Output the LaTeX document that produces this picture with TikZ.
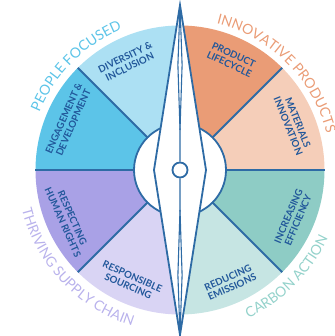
\documentclass[tikz,border=0pt]{standalone}
\usepackage{fontspec}
\setmainfont{Lato}
\usetikzlibrary{decorations.text}
\definecolor{cdiv}{HTML}{ACE0F3}
\definecolor{ceng}{HTML}{5CC4E8}
\definecolor{cprod}{HTML}{EA9C76}
\definecolor{cmat}{HTML}{F5CEB9}
\definecolor{cinc}{HTML}{8ECCC5}
\definecolor{cred}{HTML}{C6E5E3}
\definecolor{crsrc}{HTML}{D9D4F4}
\definecolor{cresp}{HTML}{A9A1E6}
\definecolor{cline}{HTML}{2E6BA5}
\definecolor{ctext}{HTML}{21579A}
\definecolor{tpeople}{HTML}{5CC4E8}
\definecolor{tinno}{HTML}{EA9C76}
\definecolor{tsupply}{HTML}{B9B2EC}
\definecolor{tcarbon}{HTML}{94D2CB}
\tikzset{
  blueline/.style={draw=cline, line width=1.8pt},
  thinline/.style={draw=cline, line width=1.1pt},
  lbl/.style={text=ctext, font=\fontsize{9.7}{10.4}\selectfont\bfseries, align=center, inner sep=0pt},
}
\newcommand{\arclabel}[5]{%
  \path[decorate, decoration={text along path, text align=center, text color=#1,
      text={|\fontsize{14}{14}\selectfont|#5}}]
    (#2:#4) arc[start angle=#2, end angle=#3, radius=#4];}
\begin{document}
\begin{tikzpicture}[x=1pt,y=1pt]
\useasboundingbox (-180,-166) rectangle (154,170);
% sectors
\foreach \a/\c in {0/cmat,45/cprod,90/cdiv,135/ceng,180/cresp,225/crsrc,270/cred,315/cinc}{
  \fill[\c] (0,0) -- (\a:144.5) arc[start angle=\a, end angle=\a+45, radius=144.5] -- cycle;
}
% dividers
\foreach \a in {0,45,135,180,225,315}{
  \draw[blueline] (\a:45) -- (\a:144.5);
}
% inner circle
\node[circle, blueline, fill=white, minimum size=92pt, inner sep=0pt] (hub) at (0,0) {};
% needle
\coordinate (ntop) at (0,165);
\coordinate (nbot) at (0,-165);
\coordinate (nleft) at (-26,0);
\coordinate (nright) at (26,0);
\draw[blueline, fill=white, line join=miter] (ntop) -- (nleft) -- (nbot) -- (nright) -- cycle;
\coordinate (tl) at (-2.1,105);
\coordinate (tr) at (2.1,105);
\coordinate (tm) at (0,40);
\coordinate (bl) at (-2.1,-105);
\coordinate (br) at (2.1,-105);
\coordinate (bm) at (0,-40);
\node[circle, blueline, fill=white, minimum size=15pt, inner sep=0pt] (pivot) at (0,0) {};
\draw[thinline] (ntop) -- (tl) -- (tm) -- (pivot.north);
\draw[thinline] (ntop) -- (tr) -- (tm);
\draw[thinline] (nbot) -- (bl) -- (bm) -- (pivot.south);
\draw[thinline] (nbot) -- (br) -- (bm);
% inner labels
\node[lbl, rotate=26] (div) at (116:120) {DIVERSITY \&\\INCLUSION};
\node[lbl, rotate=66] (eng) at (156:122) {ENGAGEMENT \&\\DEVELOPMENT};
\node[lbl, rotate=-25] (prod) at (65:122) {PRODUCT\\LIFECYCLE};
\node[lbl, rotate=-68] (mat) at (22:122) {MATERIALS\\INNOVATION};
\node[lbl, rotate=67] (inc) at (337:123) {INCREASING\\EFFICIENCY};
\node[lbl, rotate=24] (red) at (294:123) {REDUCING\\EMISSIONS};
\node[lbl, rotate=-24] (rsrc) at (246:122) {RESPONSIBLE\\SOURCING};
\node[lbl, rotate=-66] (resp) at (204:123) {RESPECTING\\HUMAN RIGHTS};
% outer arc labels
\arclabel{tpeople}{175}{95}{152}{PEOPLE FOCUSED}
\arclabel{tinno}{90}{0}{151}{INNOVATIVE PRODUCTS}
\arclabel{tsupply}{178}{269}{163}{THRIVING SUPPLY CHAIN}
\arclabel{tcarbon}{270}{360}{163}{CARBON ACTION}
\end{tikzpicture}
\end{document}
